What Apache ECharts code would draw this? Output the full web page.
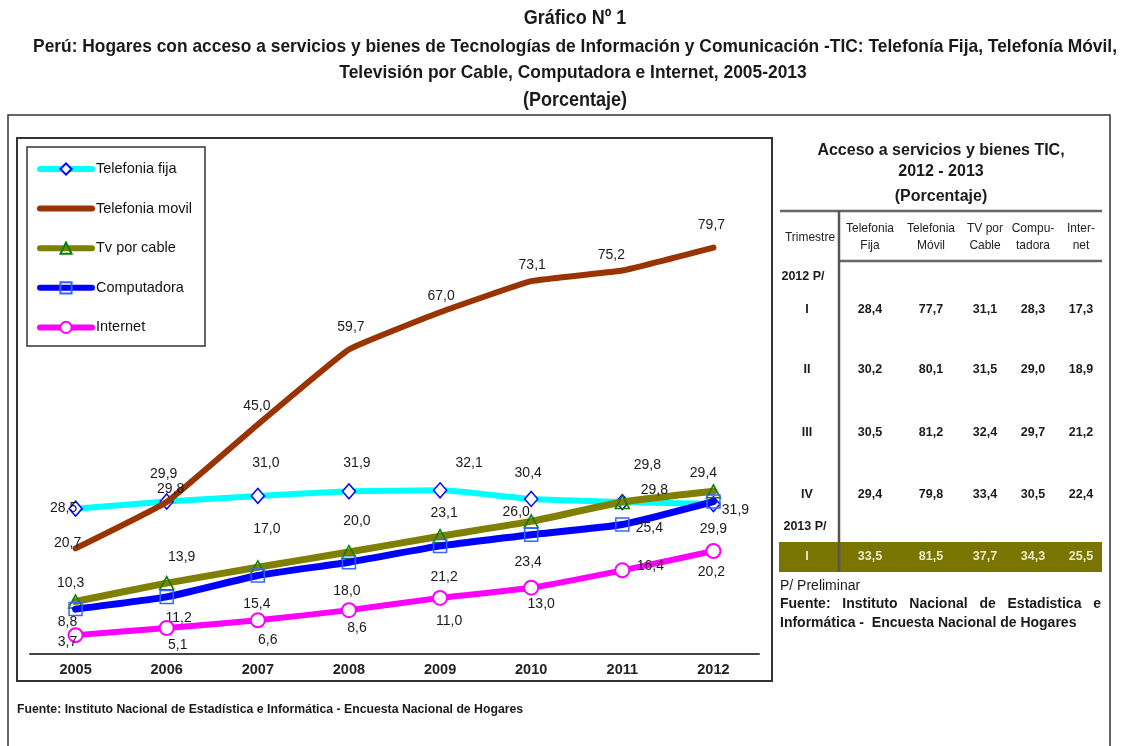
<!DOCTYPE html>
<html>
<head>
<meta charset="utf-8">
<script src="https://cdn.jsdelivr.net/npm/echarts@6/dist/echarts.min.js"></script>
<style>
  html, body { margin: 0; padding: 0; background: #ffffff; }
  #chart { width: 1124px; height: 746px; }
</style>
</head>
<body>
<div id="chart"></div>
<script>
// ---- Annual series, 2005-2012 (percentage of households) ----
const years = ['2005', '2006', '2007', '2008', '2009', '2010', '2011', '2012'];
const telefoniaFija = [28.5, 29.9, 31.0, 31.9, 32.1, 30.4, 29.8, 29.4];
const telefoniaMovil = [20.7, 29.8, 45.0, 59.7, 67.0, 73.1, 75.2, 79.7];
const tvPorCable = [10.3, 13.9, 17.0, 20.0, 23.1, 26.0, 29.8, 31.9];
const computadora = [8.8, 11.2, 15.4, 18.0, 21.2, 23.4, 25.4, 29.9];
const internet = [3.7, 5.1, 6.6, 8.6, 11.0, 13.0, 16.4, 20.2];

// ---- Quarterly table, 2012-2013 ----
const trimestres = ['I', 'II', 'III', 'IV', 'I'];
const trimFija = [28.4, 30.2, 30.5, 29.4, 33.5];
const trimMovil = [77.7, 80.1, 81.2, 79.8, 81.5];
const trimTv = [31.1, 31.5, 32.4, 33.4, 37.7];
const trimComputadora = [28.3, 29.0, 29.7, 30.5, 34.3];
const trimInternet = [17.3, 18.9, 21.2, 22.4, 25.5];

// Label nudges (px) so the value labels don't collide
const offFija  = [[-12,-1],[-3,-27],[8,-33],[8,-28],[29,-27],[-3,-26],[25,-37],[-10,-31]];
const offMovil = [[-8,-5],[4,-13],[-1,-18],[2,-22],[1,-16],[1,-16],[-11,-15],[-2,-22]];
const offTv    = [[-5,-18],[15,-26],[9,-38],[8,-31],[4,-23],[-15,-9],[32,-12],[22,19]];
const offComp  = [[-8,13],[12,21],[-1,29],[-2,29],[4,31],[-3,27],[27,4],[0,28]];
const offInt   = [[-8,7],[11,17],[10,20],[8,18],[9,23],[10,16],[28,-4],[-2,21]];

const fmt = v => v.toFixed(1).replace('.', ',');
const withOffsets = (vals, offs) => vals.map((v, i) => ({ value: v, label: { offset: offs[i] } }));

const SANS = 'Liberation Sans, Arial, sans-serif';

const labelBase = {
  show: true,
  position: 'inside',
  fontFamily: SANS,
  fontSize: 14,
  color: '#1a1a1a',
  formatter: p => fmt(p.value)
};

// ---- Side table and frames as graphic elements ----
const graphics = [];
const txt = (text, x, y, font, opts = {}) => {
  const sx = opts.sx || 1;
  delete opts.sx;
  graphics.push({
    type: 'text', silent: true, z: 10, x, y, scaleX: sx,
    style: Object.assign({ text, x: 0, y: 0, font, fill: '#1a1a1a', align: 'center', verticalAlign: 'middle' }, opts)
  });
};
const line = (x1, y1, x2, y2, stroke, w) => graphics.push({
  type: 'line', silent: true, z: 5,
  shape: { x1, y1, x2, y2 }, style: { stroke, lineWidth: w }
});
const box = (x, y, w, h, stroke, lw, fill) => graphics.push({
  type: 'rect', silent: true, z: 1,
  shape: { x, y, width: w, height: h }, style: { stroke, lineWidth: lw, fill: fill || 'none' }
});

// Frames
box(8, 115, 1102, 700, '#333', 1.5);
box(17, 138, 755, 543, '#333', 2);
box(27, 147, 178, 199, '#333', 1.5);

// Titles (condensed bold)
txt('Gráfico Nº 1', 575, 18, 'bold 20px ' + SANS, { sx: 0.9 });
txt('Perú: Hogares con acceso a servicios y bienes de Tecnologías de Información y Comunicación -TIC: Telefonía Fija, Telefonía Móvil,', 575, 47, 'bold 19px ' + SANS, { sx: 0.915 });
txt('Televisión por Cable, Computadora e Internet, 2005-2013', 573, 73, 'bold 19px ' + SANS, { sx: 0.915 });
txt('(Porcentaje)', 575, 100, 'bold 20px ' + SANS, { sx: 0.9 });

// Footer
txt('Fuente: Instituto Nacional de Estadística e Informática - Encuesta Nacional de Hogares', 17, 709,
    'bold 13px ' + SANS, { align: 'left', sx: 0.943 });

// Table heading
txt('Acceso a servicios y bienes TIC,', 941, 151, 'bold 16px ' + SANS);
txt('2012 - 2013', 941, 172, 'bold 16px ' + SANS);
txt('(Porcentaje)', 941, 197, 'bold 16px ' + SANS);

// Table grid
const colX = [870, 931, 985, 1033, 1081];
const rowY = [310, 370, 433, 495, 557];
box(779, 542, 323, 30, 'none', 0, '#7a7400');
line(780, 211, 1102, 211, '#666', 2.5);
line(839, 261, 1102, 261, '#666', 2.5);
line(839, 211, 839, 572, '#555', 2.5);

// Column headers
txt('Trimestre', 810, 237, '13px ' + SANS, { fill: '#222', sx: 0.92 });
const headers = [['Telefonia', 'Fija'], ['Telefonia', 'Móvil'], ['TV por', 'Cable'], ['Compu-', 'tadora'], ['Inter-', 'net']];
headers.forEach((h, c) => {
  txt(h[0], colX[c], 228, '13px ' + SANS, { fill: '#222', sx: 0.92 });
  txt(h[1], colX[c], 245, '13px ' + SANS, { fill: '#222', sx: 0.92 });
});

txt('2012 P/', 803, 277, 'bold 12.5px ' + SANS);
txt('2013 P/', 805, 527, 'bold 12.5px ' + SANS);

const tableCols = [trimFija, trimMovil, trimTv, trimComputadora, trimInternet];
trimestres.forEach((t, r) => {
  const last = r === trimestres.length - 1;
  const fill = last ? '#ecebc8' : '#1a1a1a';
  txt(t, 807, rowY[r], 'bold 12.5px ' + SANS, { fill });
  tableCols.forEach((col, c) => txt(fmt(col[r]), colX[c], rowY[r], 'bold 12.5px ' + SANS, { fill }));
});

// Notes under the table (first source line justified to the table width)
txt('P/ Preliminar', 780, 586, '14px ' + SANS, { align: 'left' });
(function justified(text, x0, x1, y, font) {
  const ctx = document.createElement('canvas').getContext('2d');
  ctx.font = font;
  const words = text.split(' ');
  const widths = words.map(w => ctx.measureText(w).width);
  const gap = (x1 - x0 - widths.reduce((a, b) => a + b, 0)) / (words.length - 1);
  let x = x0;
  words.forEach((w, i) => { txt(w, x, y, font, { align: 'left' }); x += widths[i] + gap; });
})('Fuente: Instituto Nacional de Estadistica e', 780, 1101, 604, 'bold 14px ' + SANS);
txt('Informática -  Encuesta Nacional de Hogares', 780, 623, 'bold 14px ' + SANS, { align: 'left' });

// ---- Chart ----
const chart = echarts.init(document.getElementById('chart'), null, { renderer: 'canvas' });

chart.setOption({
  backgroundColor: '#ffffff',
  animation: false,
  textStyle: { fontFamily: SANS },
  grid: { left: 30, right: 365, top: 144, bottom: 92 },
  legend: {
    orient: 'vertical',
    left: 32,
    top: 156.5,
    itemWidth: 52,
    itemHeight: 14,
    itemGap: 24.6,
    lineStyle: { width: 6 },
    textStyle: { fontSize: 14.5, color: '#111', fontFamily: SANS, padding: [0, 0, 0, -1] },
    data: [
      { name: 'Telefonia fija' },
      { name: 'Telefonia movil', itemStyle: { opacity: 0 } },
      { name: 'Tv por cable' },
      { name: 'Computadora' },
      { name: 'Internet' }
    ]
  },
  xAxis: {
    type: 'category',
    data: years,
    boundaryGap: true,
    axisLine: { lineStyle: { color: '#444', width: 2 } },
    axisTick: { show: false },
    axisLabel: { fontWeight: 'bold', fontSize: 14.5, color: '#222', margin: 8 },
    splitLine: { show: false }
  },
  yAxis: {
    type: 'value',
    min: 0,
    max: 100,
    show: false,
    splitLine: { show: false }
  },
  series: [
    {
      name: 'Telefonia fija', type: 'line', smooth: 0.15,
      data: withOffsets(telefoniaFija, offFija),
      symbol: 'diamond', symbolSize: [13, 15],
      lineStyle: { color: '#00ffff', width: 6, cap: 'round' },
      itemStyle: { color: '#ffffff', borderColor: '#0000ff', borderWidth: 1.5 },
      label: labelBase, z: 2
    },
    {
      name: 'Telefonia movil', type: 'line', smooth: 0.1,
      data: withOffsets(telefoniaMovil, offMovil),
      symbol: 'circle', symbolSize: 0.5,
      lineStyle: { color: '#993300', width: 6, cap: 'round', join: 'round' },
      itemStyle: { color: '#993300' },
      label: labelBase, z: 3
    },
    {
      name: 'Tv por cable', type: 'line', smooth: 0.15,
      data: withOffsets(tvPorCable, offTv),
      symbol: 'triangle', symbolSize: [14, 13],
      lineStyle: { color: '#808000', width: 7, cap: 'round' },
      itemStyle: { color: 'rgba(255,255,255,0)', borderColor: '#008000', borderWidth: 1.5 },
      label: labelBase, z: 4
    },
    {
      name: 'Computadora', type: 'line', smooth: 0.15,
      data: withOffsets(computadora, offComp),
      symbol: 'rect', symbolSize: 13,
      lineStyle: { color: '#0000ff', width: 7, cap: 'round' },
      itemStyle: { color: 'rgba(255,255,255,0)', borderColor: '#3366ff', borderWidth: 1.5 },
      label: labelBase, z: 5
    },
    {
      name: 'Internet', type: 'line', smooth: 0.15,
      data: withOffsets(internet, offInt),
      symbol: 'circle', symbolSize: 14,
      lineStyle: { color: '#ff00ff', width: 6, cap: 'round' },
      itemStyle: { color: '#ffffff', borderColor: '#ff00ff', borderWidth: 2 },
      label: labelBase, z: 6
    }
  ],
  graphic: graphics
});
</script>
</body>
</html>
